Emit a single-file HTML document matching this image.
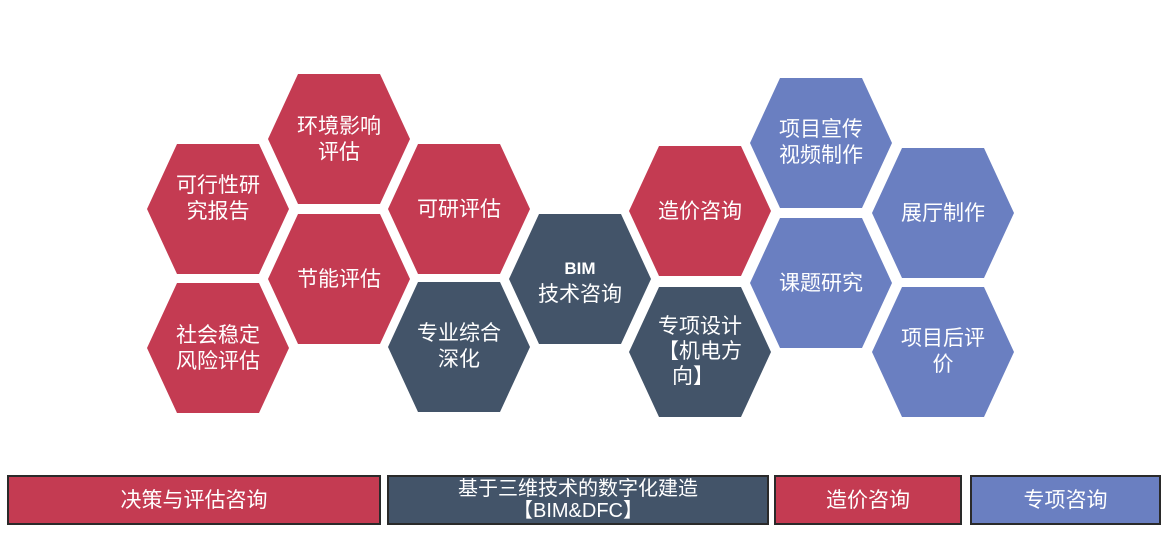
<!DOCTYPE html>
<html><head><meta charset="utf-8"><style>
body{margin:0;width:1168px;height:533px;background:#fff;overflow:hidden;position:relative;font-family:"Liberation Sans","Noto Sans CJK SC",sans-serif}
.bar{position:absolute;top:475px;border:2px solid #2a2a2a;color:#fff;font-size:21px;display:flex;align-items:center;justify-content:center;text-align:center;line-height:23px;box-sizing:border-box;height:50px}
</style></head><body>
<svg width="1168" height="533" style="position:absolute;left:0;top:0" font-family="Liberation Sans, Noto Sans CJK SC, sans-serif" font-size="21" fill="#fff" text-anchor="middle">
<defs><polygon id="h" points="-71,0 -41,-65 41,-65 71,0 41,65 -41,65"/></defs>
<g fill="#C43B52">
<use href="#h" x="218" y="209"/><use href="#h" x="339" y="139"/><use href="#h" x="459" y="209"/>
<use href="#h" x="339" y="279"/><use href="#h" x="218" y="348"/><use href="#h" x="700" y="211"/>
</g>
<g fill="#435469"><use href="#h" x="459" y="347"/><use href="#h" x="580" y="279"/><use href="#h" x="700" y="352"/></g>
<g fill="#6A7FC1"><use href="#h" x="821" y="143"/><use href="#h" x="821" y="283"/><use href="#h" x="943" y="213"/><use href="#h" x="943" y="352"/></g>
<g fill="#fff">
<text x="218" y="192">可行性研</text><text x="218" y="218">究报告</text>
<text x="339" y="133">环境影响</text><text x="339" y="159">评估</text>
<text x="459" y="216">可研评估</text>
<text x="339" y="286">节能评估</text>
<text x="218" y="342">社会稳定</text><text x="218" y="368">风险评估</text>
<text x="459" y="340">专业综合</text><text x="459" y="366">深化</text>
<text x="580" y="274" font-size="17" font-weight="bold">BIM</text><text x="580" y="301">技术咨询</text>
<text x="700" y="218">造价咨询</text>
<text x="700" y="333">专项设计</text><text x="700" y="358">【机电方</text><text x="693" y="383">向】</text>
<text x="821" y="136">项目宣传</text><text x="821" y="162">视频制作</text>
<text x="821" y="290">课题研究</text>
<text x="943" y="220">展厅制作</text>
<text x="943" y="345">项目后评</text><text x="943" y="371">价</text>
</g>
</svg>
<div class="bar" style="left:7px;width:374px;background:#C43B52">决策与评估咨询</div>
<div class="bar" style="left:387px;width:382px;background:#435469;font-size:20px;line-height:22px">基于三维技术的数字化建造<br>【BIM&amp;DFC】</div>
<div class="bar" style="left:774px;width:188px;background:#C43B52">造价咨询</div>
<div class="bar" style="left:970px;width:191px;background:#6A7FC1">专项咨询</div>
</body></html>
